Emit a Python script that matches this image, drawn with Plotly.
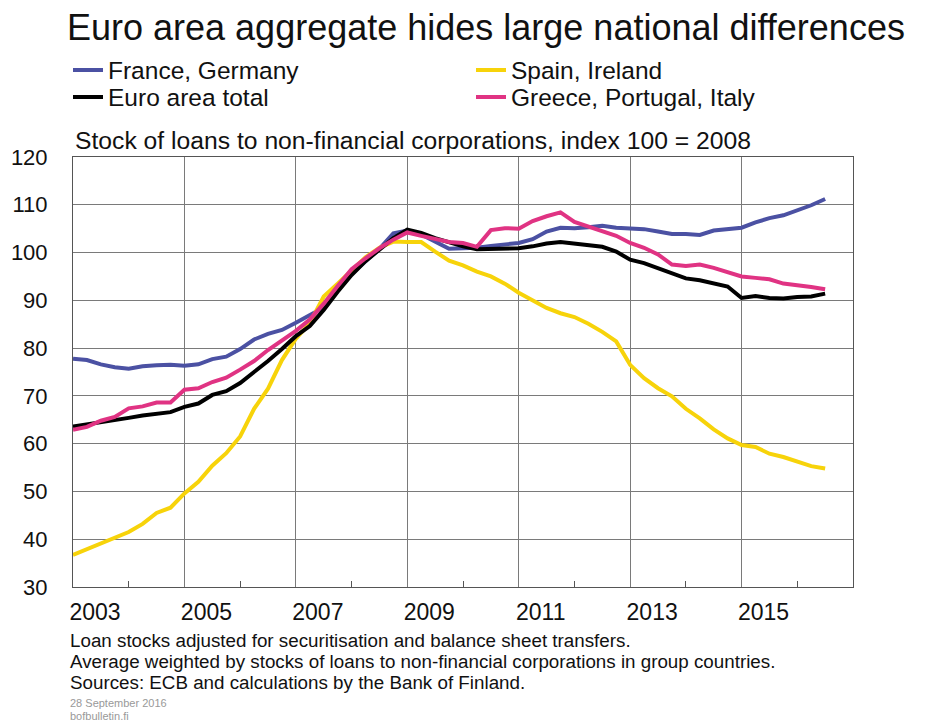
import plotly.graph_objects as go

# quarterly observations, decimal years
years = [2003 + 0.25 * i for i in range(55)]

france_germany = [
    77.8, 77.5, 76.6, 76.0, 75.7, 76.2, 76.4, 76.5, 76.3, 76.6, 77.7, 78.2,
    79.8, 81.8, 83.0, 83.8, 85.3, 86.8, 88.5, 92.0, 95.5, 98.2, 100.8, 104.0,
    104.6, 103.8, 102.4, 100.8, 100.9, 101.0, 101.4, 101.8, 102.0, 102.8, 104.4, 105.2,
    105.1, 105.3, 105.6, 105.2, 105.0, 104.9, 104.4, 103.9, 103.9, 103.7, 104.6, 104.8,
    105.2, 106.3, 107.2, 107.8, 108.8, 109.9, 111.2,
]
spain_ireland = [
    36.7, 37.9, 39.0, 40.2, 41.5, 43.2, 45.5, 46.6, 49.6, 52.0, 55.4, 58.0,
    61.5, 67.3, 71.5, 77.5, 82.0, 85.2, 90.8, 93.5, 96.2, 99.0, 101.0, 102.3,
    102.2, 102.2, 100.2, 98.3, 97.3, 96.0, 95.0, 93.5, 91.6, 89.9, 88.4, 87.3,
    86.5, 85.1, 83.4, 81.4, 76.5, 73.7, 71.6, 69.9, 67.3, 65.3, 63.0, 61.1,
    59.7, 59.3, 57.9, 57.2, 56.3, 55.3, 54.8,
]
euro_area = [
    63.6, 64.0, 64.4, 64.9, 65.4, 65.9, 66.2, 66.6, 67.7, 68.4, 70.2, 71.0,
    72.7, 74.9, 77.3, 79.8, 82.5, 84.6, 88.0, 91.8, 95.3, 98.2, 100.5, 103.0,
    104.8, 104.1, 103.0, 102.1, 101.3, 100.7, 100.8, 100.7, 100.9, 101.3, 101.9, 102.2,
    101.8, 101.4, 101.2, 100.2, 98.5, 97.8, 96.8, 95.6, 94.6, 94.2, 93.6, 92.9,
    90.5, 90.9, 90.5, 90.4, 90.7, 90.8, 91.4,
]
greece_portugal_italy = [
    62.9, 63.5, 64.8, 65.6, 67.4, 67.8, 68.6, 68.6, 71.3, 71.6, 72.9, 73.8,
    75.5, 77.3, 79.6, 81.6, 83.6, 86.0, 89.3, 93.0, 96.5, 98.8, 100.9, 102.7,
    104.2, 103.5, 102.8, 102.2, 102.0, 101.2, 104.7, 105.1, 105.0, 106.6, 107.6, 108.4,
    106.4, 105.4, 104.6, 103.5, 102.0, 101.0, 99.6, 97.5, 97.2, 97.5, 96.8, 95.8,
    95.0, 94.7, 94.4, 93.5, 93.2, 92.8, 92.3,
]

x_ticks = [2003, 2005, 2007, 2009, 2011, 2013, 2015]
x_minor = [2004, 2006, 2008, 2010, 2012, 2014, 2016]

# name, values, colour, legend slot
series = [
    ("France, Germany", france_germany, "#4b51a3", "legend"),
    ("Spain, Ireland", spain_ireland, "#f7d30a", "legend2"),
    ("Euro area total", euro_area, "#000000", "legend3"),
    ("Greece, Portugal, Italy", greece_portugal_italy, "#e03383", "legend4"),
]

fig = go.Figure()
for name, values, color, leg in series:
    fig.add_trace(go.Scatter(x=years, y=values, name=name, mode="lines", legend=leg,
                             line=dict(color=color, width=4)))

font = "Liberation Sans, Arial, sans-serif"

# page has an 8px body margin, so figure coords = page coords - 8
OFF = 8
W, H = 933 - OFF, 728 - OFF
L, R, T, B = 73 - OFF, 853 - OFF, 157 - OFF, 587 - OFF


def px(xp):
    return (xp - OFF - L) / (R - L)


def py(yp):
    return (B - (yp - OFF)) / (B - T)


fig.update_xaxes(
    range=[2003, 2017], tickvals=x_ticks, ticktext=[str(v) for v in x_ticks],
    ticklabelshift=22, ticklabelstandoff=4, ticks="", showgrid=True, gridcolor="#7a7a7a", gridwidth=1,
    showline=True, linecolor="#555555", linewidth=1, mirror=True, zeroline=False,
    tickfont=dict(size=23, color="#111111"),
    minor=dict(tickvals=x_minor, ticks="inside", ticklen=6, tickcolor="#555555", showgrid=False),
)
fig.update_yaxes(
    range=[30, 120], dtick=10, showgrid=True, gridcolor="#7a7a7a", gridwidth=1,
    showline=True, linecolor="#555555", linewidth=1, mirror=True, zeroline=False,
    ticks="", ticklabelstandoff=20, tickfont=dict(size=22, color="#111111"),
)

legend_style = dict(
    orientation="v", xref="container", yref="container", xanchor="left", yanchor="middle",
    font=dict(size=24.5), itemwidth=30, bgcolor="rgba(0,0,0,0)", borderwidth=0,
)


def legend_at(xp, yp):
    return dict(legend_style, x=(xp - OFF) / W, y=1 - (yp - OFF) / H)


fig.update_layout(
    width=W, height=H,
    margin=dict(l=L, r=W - R, t=T, b=H - B, autoexpand=False),
    paper_bgcolor="white", plot_bgcolor="white",
    font=dict(family=font, color="#111111"),
    showlegend=True,
    legend=legend_at(68, 70),
    legend2=legend_at(471, 70),
    legend3=legend_at(68, 97),
    legend4=legend_at(471, 97),
    title=dict(text="Euro area aggregate hides large national differences",
               x=(67 - OFF) / W, xanchor="left", y=1 - (27 - OFF) / H, yanchor="middle",
               font=dict(size=36, color="#111111")),
)

fig.add_annotation(text="Stock of loans to non-financial corporations, index 100 = 2008",
                   xref="paper", yref="paper", x=0, y=py(140), xanchor="left", yanchor="middle",
                   showarrow=False, font=dict(size=24.7))
notes = [
    "Loan stocks adjusted for securitisation and balance sheet transfers.",
    "Average weighted by stocks of loans to non-financial corporations in group countries.",
    "Sources: ECB and calculations by the Bank of Finland.",
]
for i, line in enumerate(notes):
    fig.add_annotation(text=line, xref="paper", yref="paper",
                       x=px(68), y=py(640 + 21 * i), xanchor="left", yanchor="middle",
                       showarrow=False, font=dict(size=18.8))
fig.add_annotation(text="28 September 2016", xref="paper", yref="paper",
                   x=px(68), y=py(703), xanchor="left", yanchor="middle",
                   showarrow=False, font=dict(size=11, color="#999999"))
fig.add_annotation(text="bofbulletin.fi", xref="paper", yref="paper",
                   x=px(68), y=py(716), xanchor="left", yanchor="middle",
                   showarrow=False, font=dict(size=11, color="#999999"))

fig.write_html("out.html")
